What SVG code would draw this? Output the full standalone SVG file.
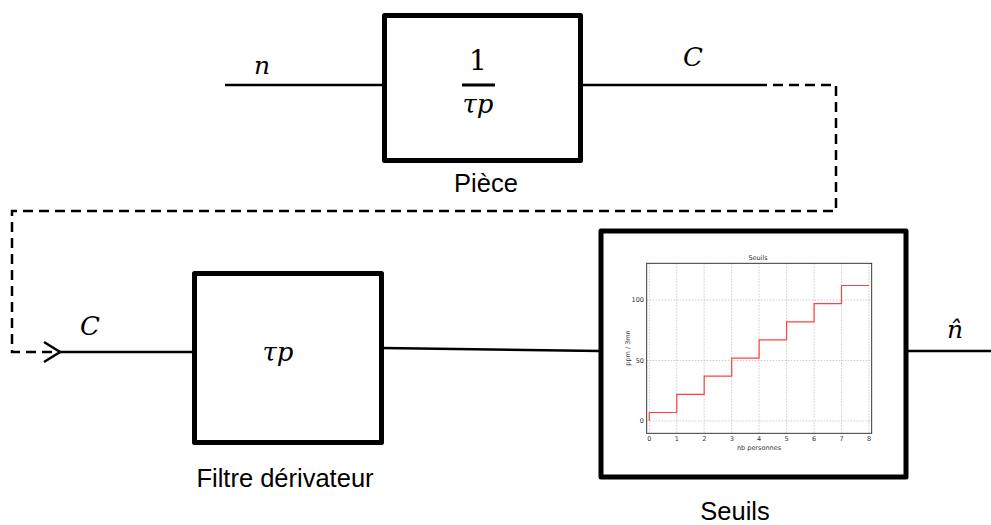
<svg xmlns="http://www.w3.org/2000/svg" width="991" height="525" viewBox="0 0 991 525">
<style>
.box{fill:#fff;stroke:#000;stroke-width:5;stroke-linejoin:round}
.wire{fill:none;stroke:#000;stroke-width:2.5}
.dash{fill:none;stroke:#000;stroke-width:2.5;stroke-dasharray:10 6}
.math{font-family:"DejaVu Serif","Liberation Serif",serif;font-style:italic;fill:#000}
.num{font-family:"DejaVu Serif","Liberation Serif",serif;fill:#000}
.lbl{font-family:"Liberation Sans",Arial,sans-serif;font-size:25.5px;fill:#000;text-anchor:middle}
.tk{font-family:"DejaVu Sans","Liberation Sans",sans-serif;font-size:6.5px;fill:#333}
.grid{stroke:#aaa;stroke-width:0.6;stroke-dasharray:1.5 1.5}
</style>
<rect width="991" height="525" fill="#fff"/>
<g id="connectors">
<line class="wire" x1="225" y1="85" x2="384" y2="85"/>
<line class="wire" x1="581" y1="85" x2="757" y2="85"/>
<path class="dash" d="M757,85 H836 V211 H12 V352 H58"/>
<line class="wire" x1="58" y1="352" x2="194" y2="352"/>
<polyline class="wire" points="44,342 60,352 44,362"/>
<line class="wire" x1="382" y1="348" x2="600" y2="351"/>
<line class="wire" x1="906" y1="351" x2="991" y2="351"/>
<text class="math" x="262" y="74" font-size="25" text-anchor="middle">n</text>
<text class="math" x="693" y="66" font-size="26" text-anchor="middle">C</text>
<text class="math" x="90" y="335" font-size="26" text-anchor="middle">C</text>
<text class="math" x="955" y="338" font-size="25" text-anchor="middle">n̂</text>
</g>
<g id="piece">
<rect class="box" x="384.5" y="15.5" width="196" height="145"/>
<text class="num" x="478" y="70" font-size="28" text-anchor="middle">1</text>
<line x1="462" y1="85" x2="495" y2="85" stroke="#000" stroke-width="3"/>
<text class="math" x="478" y="113" font-size="26" text-anchor="middle">τp</text>
<text class="lbl" x="486" y="192">Pièce</text>
</g>
<g id="filtre">
<rect class="box" x="194.5" y="273.5" width="187" height="169"/>
<text class="math" x="278" y="361" font-size="26" text-anchor="middle">τp</text>
<text class="lbl" x="285" y="487">Filtre dérivateur</text>
</g>
<g id="seuils">
<rect class="box" x="601" y="231" width="305" height="246" stroke-width="6"/>
<g id="plot">
<line class="grid" x1="676.8" y1="263.3" x2="676.8" y2="433.3"/>
<line class="grid" x1="704.2" y1="263.3" x2="704.2" y2="433.3"/>
<line class="grid" x1="731.7" y1="263.3" x2="731.7" y2="433.3"/>
<line class="grid" x1="759.1" y1="263.3" x2="759.1" y2="433.3"/>
<line class="grid" x1="786.6" y1="263.3" x2="786.6" y2="433.3"/>
<line class="grid" x1="814.1" y1="263.3" x2="814.1" y2="433.3"/>
<line class="grid" x1="841.5" y1="263.3" x2="841.5" y2="433.3"/>
<line class="grid" x1="649.3" y1="263.3" x2="649.3" y2="433.3"/>
<line class="grid" x1="869" y1="263.3" x2="869" y2="433.3"/>
<line class="grid" x1="646.7" y1="421" x2="871.7" y2="421"/>
<line class="grid" x1="646.7" y1="360.5" x2="871.7" y2="360.5"/>
<line class="grid" x1="646.7" y1="300" x2="871.7" y2="300"/>
<path d="M649.3,421 V412.5 H676.8 V394.4 H704.2 V376.2 H731.7 V358.1 H759.1 V339.9 H786.6 V321.8 H814.1 V303.6 H841.5 V285.5 H869" fill="none" stroke="#ff4040" stroke-width="1.2"/>
<rect x="646.7" y="263.3" width="225" height="170" fill="none" stroke="#222" stroke-width="0.9"/>
<text class="tk" x="758" y="260" text-anchor="middle" font-size="7">Seuils</text>
<g text-anchor="middle">
<text class="tk" x="649.3" y="441">0</text>
<text class="tk" x="676.8" y="441">1</text>
<text class="tk" x="704.2" y="441">2</text>
<text class="tk" x="731.7" y="441">3</text>
<text class="tk" x="759.1" y="441">4</text>
<text class="tk" x="786.6" y="441">5</text>
<text class="tk" x="814.1" y="441">6</text>
<text class="tk" x="841.5" y="441">7</text>
<text class="tk" x="869" y="441">8</text>
</g>
<g text-anchor="end">
<text class="tk" x="644" y="423.3">0</text>
<text class="tk" x="644" y="362.8">50</text>
<text class="tk" x="644" y="302.3">100</text>
</g>
<text class="tk" x="759" y="449.5" text-anchor="middle">nb personnes</text>
<text class="tk" x="0" y="0" text-anchor="middle" transform="translate(630,348) rotate(-90)">ppm / 3mn</text>
</g>
<text class="lbl" x="735" y="520">Seuils</text>
</g>
</svg>
